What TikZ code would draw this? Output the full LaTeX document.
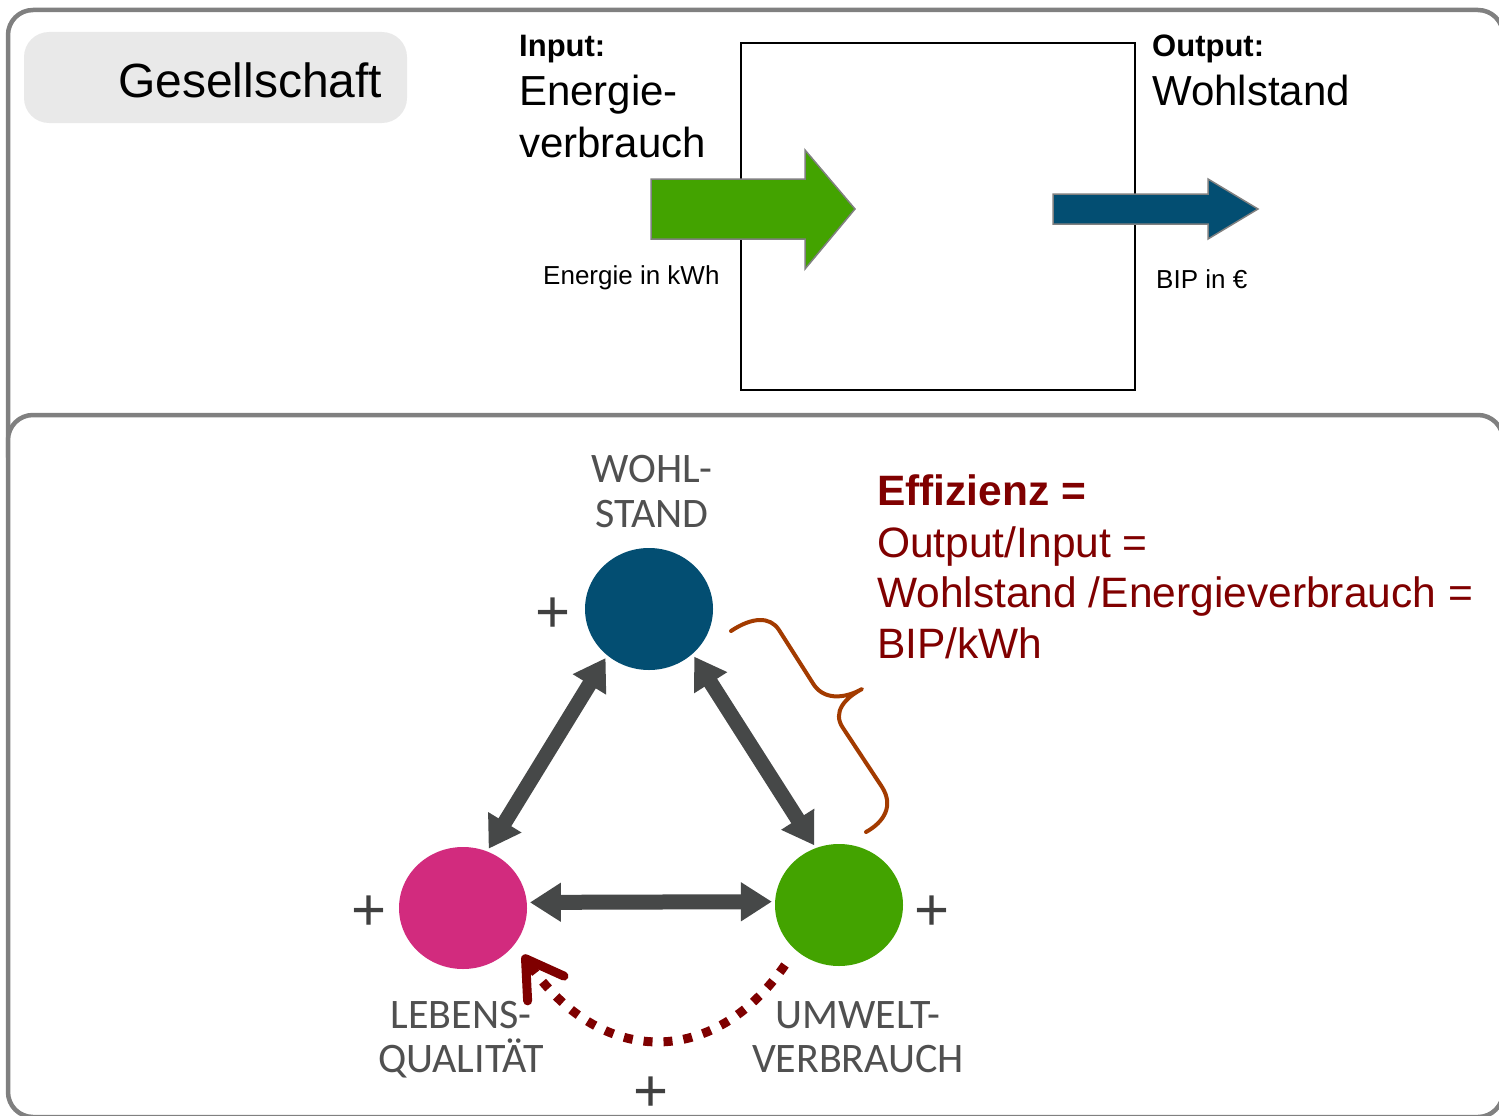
\documentclass[tikz,border=0pt]{standalone}
\usepackage{fontspec}
\setmainfont{Liberation Sans}
\newfontfamily\labelfont{Carlito}
\usetikzlibrary{arrows.meta,calc,shapes.geometric}

\definecolor{framegray}{HTML}{808080}
\definecolor{tagfill}{HTML}{E9E9E9}
\definecolor{leafgreen}{HTML}{43A300}
\definecolor{petrol}{HTML}{034E72}
\definecolor{magenta}{HTML}{D22B7E}
\definecolor{darkarrow}{HTML}{464848}
\definecolor{labelgray}{HTML}{505050}
\definecolor{plusgray}{HTML}{404040}
\definecolor{wine}{HTML}{800000}
\definecolor{dotred}{HTML}{7F0000}
\definecolor{rust}{HTML}{A33B00}

\newcommand{\fs}[1]{\fontsize{#1}{#1}\selectfont}

\begin{document}
\begin{tikzpicture}[x=1pt,y=-1pt,
  txt/.style={inner sep=0pt, anchor=base west},
  lbl/.style={inner sep=0pt, anchor=base, text=labelgray, font=\labelfont\fs{42}},
  plus/.style={inner sep=0pt, text=plusgray, font=\fs{60}},
  frame/.style={draw=framegray, line width=4.5pt, rounded corners=25pt},
  blob/.style={ellipse, inner sep=0pt, minimum width=128pt, minimum height=122pt},
  blockarrow/.style={draw=framegray, line width=1.5pt, line join=miter},
  triarrow/.style={draw=darkarrow, line width=15pt,
    {Triangle[length=31pt,width=37pt]}-{Triangle[length=31pt,width=37pt]},
    shorten <=3pt, shorten >=3pt},
  feedback/.style={draw=dotred, line width=9pt, dash pattern=on 9pt off 11pt,
    -{Straight Barb[length=36pt,width=44pt,line cap=round,line join=round]}},
  effline/.style={txt, text=wine, font=\fs{42.5}}
]
\useasboundingbox (0,0) rectangle (1499,1116);
\clip (0,0) rectangle (1499,1116);

% --- frames of the two panels
\draw[frame] (8,10) rectangle (1503,480);
\draw[frame, fill=white] (8,415) rectangle (1503,1117);

% --- upper panel: the society as a black box
\fill[tagfill, rounded corners=25pt] (24,32) rectangle (407,123);
\node[txt, font=\fs{48}] (tag) at (118,97) {Gesellschaft};

\node[draw=black, line width=2pt, inner sep=0pt, minimum width=394pt,
      minimum height=347pt] (box) at (938,216.5) {};

\node[txt, font=\bfseries\fs{31}] (inhead) at (519,57) {Input:};
\node[txt, font=\fs{42}] (in1) at (519,105) {Energie-};
\node[txt, font=\fs{42}] (in2) at (519,157) {verbrauch};
\node[txt, font=\fs{26}] (inunit) at (543,284) {Energie in kWh};

\node[txt, font=\bfseries\fs{31}] (outhead) at (1152,57) {Output:};
\node[txt, font=\fs{42}] (out1) at (1152,105) {Wohlstand};
\node[txt, font=\fs{26}] (outunit) at (1156,288) {BIP in €};

% input arrow (energy)
\filldraw[blockarrow, fill=leafgreen]
  (651,179) -- (805,179) -- (805,150) -- (855,209) -- (805,269)
  -- (805,239) -- (651,239) -- cycle;
% output arrow (GDP)
\filldraw[blockarrow, fill=petrol]
  (1053,194) -- (1208,194) -- (1208,179) -- (1258,209) -- (1208,239)
  -- (1208,224) -- (1053,224) -- cycle;

% --- lower panel: triangle of goals
\node[blob, fill=petrol] (wohl) at (649,609) {};
\node[blob, fill=magenta] (leb) at (463,908) {};
\node[blob, fill=leafgreen] (umw) at (839,905) {};

\node[lbl] (wohlA) at (652,482) {WOHL-};
\node[lbl] (wohlB) at (652,527) {STAND};
\node[lbl] (lebA) at (461,1028) {LEBENS-};
\node[lbl] (lebB) at (461,1072) {QUALITÄT};
\node[lbl] (umwA) at (858,1028) {UMWELT-};
\node[lbl] (umwB) at (858,1072) {VERBRAUCH};

\node[plus] (pw) at (553,615) {+};
\node[plus] (pl) at (369,913) {+};
\node[plus] (pu) at (932,913) {+};
\node[plus] (pf) at (651,1094) {+};

\draw[triarrow] (wohl.228) -- (leb.67);
\draw[triarrow] (wohl.314) -- (umw.112);
\draw[triarrow] (leb.5) -- (umw.177);

% feedback from consumption to quality of life
\coordinate (fbstart) at ($(umw)+(-54,60)$);
\coordinate (fbend) at ($(leb)+(60,47)$);
\draw[feedback] (fbstart) .. controls ($(umw)+(-125,163)$) and ($(leb)+(137,160)$) .. (fbend);

% brace spanning prosperity and consumption
\draw[rust, line width=4pt, line cap=round, line join=round]
  (731,631) .. controls (752,617) and (770,616) .. (779,630)
  -- (814,685) .. controls (826,702) and (848,697) .. (862,689)
  .. controls (845,698) and (832,712) .. (843,728)
  -- (882,787) .. controls (894,806) and (884,822) .. (866,832);

% efficiency definition
\node[effline, font=\bfseries\fs{42.5}] (eff1) at (877,505) {Effizienz =};
\node[effline] (eff2) at (877,557) {Output/Input =};
\node[effline] (eff3) at (877,607) {Wohlstand /Energieverbrauch =};
\node[effline] (eff4) at (877,658) {BIP/kWh};
\end{tikzpicture}
\end{document}
